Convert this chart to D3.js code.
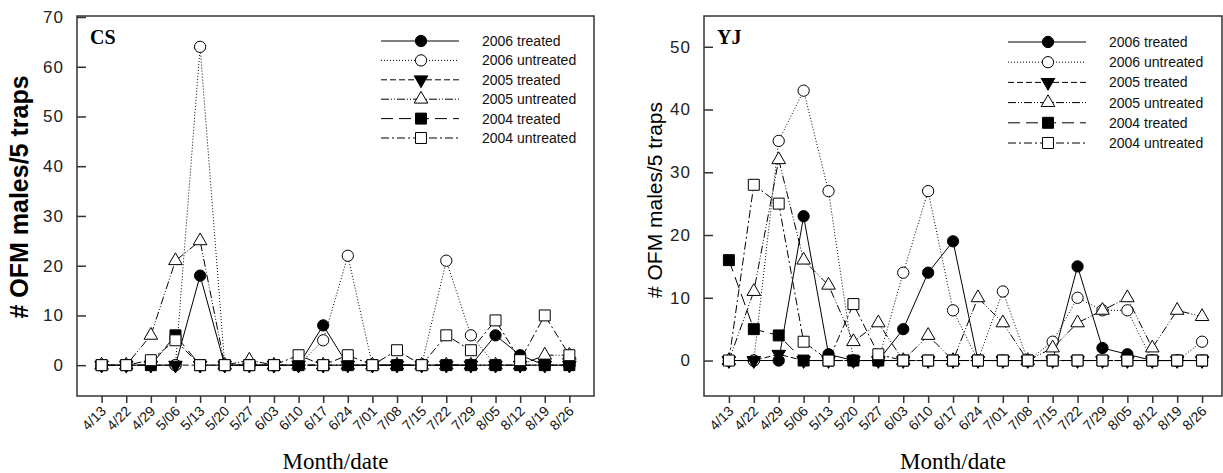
<!DOCTYPE html>
<html><head><meta charset="utf-8">
<script src="https://cdn.jsdelivr.net/npm/d3@7"></script>
<style>body{margin:0;background:#fff}svg{display:block}</style>
</head><body>
<svg id="c" width="1223" height="473"></svg>
<script>
const dates = ["4/13","4/22","4/29","5/06","5/13","5/20","5/27","6/03","6/10","6/17","6/24","7/01","7/08","7/15","7/22","7/29","8/05","8/12","8/19","8/26"];
const seriesNames = ["2006 treated","2006 untreated","2005 treated","2005 untreated","2004 treated","2004 untreated"];

// CS site
const cs06t = [0,0,0,0,18,0,0,0,0,8,0,0,0,0,0,0,6,2,0,0];
const cs06u = [0,0,0,0,64,0,0,0,0,5,22,0,0,0,21,6,0,0,0,0];
const cs05t = [0,0,0,0,0,0,0,0,0,0,0,0,0,0,0,0,0,0,0,0];
const cs05u = [0,0,6,21,25,0,1,0,0,0,0,0,0,0,0,0,0,0,2,2];
const cs04t = [0,0,0,6,0,0,0,0,0,0,0,0,0,0,0,0,0,0,0,0];
const cs04u = [0,0,1,5,0,0,0,0,2,0,2,0,3,0,6,3,9,1,10,2];

// YJ site
const yj06t = [0,0,0,23,1,0,0,5,14,19,0,0,0,0,15,2,1,0,0,0];
const yj06u = [0,0,35,43,27,0,0,14,27,8,0,11,0,3,10,8,8,0,0,3];
const yj05t = [0,0,1,0,0,0,0,0,0,0,0,0,0,0,0,0,0,0,0,0];
const yj05u = [0,11,32,16,12,3,6,0,4,0,10,6,0,2,6,8,10,2,8,7];
const yj04t = [16,5,4,0,0,0,0,0,0,0,0,0,0,0,0,0,0,0,0,0];
const yj04u = [0,28,25,3,0,9,1,0,0,0,0,0,0,0,0,0,0,0,0,0];

const csTicks = [0,10,20,30,40,50,60,70];
const yjTicks = [0,10,20,30,40,50];

const styles = [
  {dash:null, sym:d3.symbolCircle, fill:"#000", size:100},
  {dash:"1,2", sym:d3.symbolCircle, fill:"#fff", size:100},
  {dash:"6,3", sym:d3.symbolTriangle, fill:"#000", size:80, rot:180},
  {dash:"8,2,1,2,1,2", sym:d3.symbolTriangle, fill:"#fff", size:80},
  {dash:"12,6", sym:d3.symbolSquare, fill:"#000", size:120},
  {dash:"8,3,2,3", sym:d3.symbolSquare, fill:"#fff", size:120}
];

const svg = d3.select("#c");

function panel(cfg){
  const g = svg.append("g");
  const x = d3.scaleLinear().domain(cfg.xDomain).range([cfg.left, cfg.right]);
  const y = d3.scaleLinear().domain(cfg.yDomain).range([cfg.bottom, cfg.top]);
  g.append("rect").attr("x",cfg.left).attr("y",cfg.top)
    .attr("width",cfg.right-cfg.left).attr("height",cfg.bottom-cfg.top)
    .attr("fill","none").attr("stroke","#333").attr("stroke-width",1.5);
  const ya = g.append("g").attr("transform",`translate(${cfg.left},0)`)
    .call(d3.axisRight(y).tickValues(cfg.yTicks).tickSize(9).tickFormat(d3.format("d")));
  ya.select(".domain").remove();
  ya.selectAll(".tick line").attr("stroke","#333").attr("stroke-width",1.5);
  ya.selectAll(".tick text").attr("x",-13).attr("text-anchor","end")
    .attr("font-family","Arial, 'Liberation Sans', sans-serif").attr("font-size",17)
    .attr("letter-spacing","1px").attr("fill","#222");
  const xa = g.append("g").attr("transform",`translate(0,${cfg.bottom})`)
    .call(d3.axisBottom(x).tickValues(d3.range(dates.length)).tickSize(7).tickFormat(i=>dates[i]));
  xa.select(".domain").remove();
  xa.selectAll(".tick line").attr("stroke","#333").attr("stroke-width",1.5);
  xa.selectAll(".tick text")
    .attr("font-family","Arial, 'Liberation Sans', sans-serif").attr("font-size",14).attr("fill","#111")
    .attr("text-anchor","end").attr("y",0).attr("dy",0)
    .attr("transform","translate(5,16) rotate(-45)");
  cfg.series.forEach((vals,si)=>{
    const st = styles[si];
    const line = d3.line().x((d,i)=>x(i)).y(d=>y(d));
    g.append("path").attr("d",line(vals)).attr("fill","none").attr("stroke","#000")
      .attr("stroke-width",1).attr("stroke-dasharray",st.dash);
    g.selectAll(null).data(vals).enter().append("path")
      .attr("d",d3.symbol().type(st.sym).size(st.size))
      .attr("transform",(d,i)=>`translate(${x(i)},${y(d)})${st.rot?" rotate(180)":""}`)
      .attr("fill",st.fill).attr("stroke","#000").attr("stroke-width",1);
  });
  g.append("text").attr("x",cfg.left+13).attr("y",cfg.top+28).text(cfg.site)
    .attr("font-family","'Liberation Serif', 'Times New Roman', serif").attr("font-weight","bold").attr("font-size",20);
  seriesNames.forEach((name,si)=>{
    const st = styles[si];
    const ly = cfg.legY + si*cfg.legStep;
    g.append("line").attr("x1",cfg.legX).attr("x2",cfg.legX+78).attr("y1",ly).attr("y2",ly)
      .attr("stroke","#000").attr("stroke-width",1).attr("stroke-dasharray",st.dash);
    g.append("path").attr("d",d3.symbol().type(st.sym).size(st.size))
      .attr("transform",`translate(${cfg.legX+40},${ly})${st.rot?" rotate(180)":""}`)
      .attr("fill",st.fill).attr("stroke","#000");
    g.append("text").attr("x",cfg.legX+101).attr("y",ly).attr("dy","0.35em").text(name)
      .attr("font-family","Arial, 'Liberation Sans', sans-serif").attr("font-size",14).attr("fill","#111");
  });
  g.append("text").attr("transform",`translate(${cfg.yLabX},${cfg.yLabY}) rotate(-90)`)
    .attr("text-anchor","middle").text("# OFM males/5 traps")
    .attr("font-family","Arial, 'Liberation Sans', sans-serif").attr("font-size",cfg.yLabSize)
    .attr("font-weight",cfg.yLabWeight);
  g.append("text").attr("x",(cfg.left+cfg.right)/2+(cfg.xLabShift||0)).attr("y",469).attr("text-anchor","middle")
    .text("Month/date").attr("font-family","'Liberation Serif', 'Times New Roman', serif").attr("font-size",23);
}

panel({site:"CS", left:77, right:594, top:16, bottom:396, xDomain:[-1,20], yDomain:[-6.2,70.2],
  yTicks:csTicks, series:[cs06t,cs06u,cs05t,cs05u,cs04t,cs04u],
  legX:381, legY:41, legStep:19.4, yLabX:28, yLabY:197, yLabSize:25, yLabWeight:"bold"});
panel({site:"YJ", left:704, right:1222, top:16, bottom:396, xDomain:[-1,19.8], yDomain:[-5.65,54.9],
  yTicks:yjTicks, series:[yj06t,yj06u,yj05t,yj05u,yj04t,yj04u],
  legX:1008, legY:42, legStep:20.2, yLabX:662, yLabY:200, yLabSize:21, yLabWeight:"normal", xLabShift:-10});
</script>
</body></html>
